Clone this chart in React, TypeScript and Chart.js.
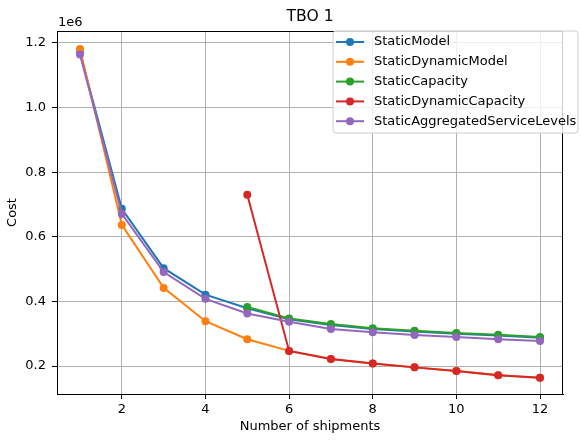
import React, { useEffect, useRef } from "react";
import { Chart, registerables } from "chart.js";

Chart.register(...registerables);

const titleText = "TBO 1";
const xAxisLabel = "Number of shipments";
const yAxisLabel = "Cost";
const yExponentLabel = "1e6";

const allShipments = [1, 2, 3, 4, 5, 6, 7, 8, 9, 10, 11, 12];
const capacityShipments = [5, 6, 7, 8, 9, 10, 11, 12];

const xTickValues = [2, 4, 6, 8, 10, 12];
const yTickValues = [200000, 400000, 600000, 800000, 1000000, 1200000];

const staticModel = [1170000, 687000, 503000, 421000, 379000, 345000, 327000, 315000, 307000, 300000, 295000, 288000];
const staticDynamicModel = [1181000, 637000, 442000, 339000, 283000, 247000, 222000, 208000, 196000, 185000, 172000, 164000];
const staticCapacity = [383000, 347000, 330000, 317000, 309000, 302000, 297000, 290000];
const staticDynamicCapacity = [730000, 247000, 222000, 208000, 196000, 185000, 172000, 164000];
const staticAggregatedServiceLevels = [1164000, 671000, 491000, 408000, 363000, 337000, 315000, 305000, 296000, 290000, 283000, 278000];

const seriesNames = [
  "StaticModel",
  "StaticDynamicModel",
  "StaticCapacity",
  "StaticDynamicCapacity",
  "StaticAggregatedServiceLevels",
];
const seriesColors = ["#1f77b4", "#ff7f0e", "#2ca02c", "#d62728", "#9467bd"];
const seriesX = [allShipments, allShipments, capacityShipments, capacityShipments, allShipments];
const seriesY = [staticModel, staticDynamicModel, staticCapacity, staticDynamicCapacity, staticAggregatedServiceLevels];

const FONT = "'DejaVu Sans', sans-serif";
const FS = 13;

const decorPlugin = {
  id: "decor",
  afterDatasetsDraw(chart: any) {
    const ctx = chart.ctx;
    const a = chart.chartArea;
    ctx.save();
    // frame
    ctx.strokeStyle = "#000";
    ctx.lineWidth = 1;
    ctx.strokeRect(Math.round(a.left) + 0.5, Math.round(a.top) + 0.5, Math.round(a.right - a.left) - 1, Math.round(a.bottom - a.top));

    // title
    ctx.fillStyle = "#000";
    ctx.textAlign = "center";
    ctx.textBaseline = "middle";
    ctx.font = `15.6px ${FONT}`;
    ctx.fillText(titleText, (a.left + a.right) / 2, 17);

    // axis labels
    ctx.font = `${FS}px ${FONT}`;
    ctx.fillText(xAxisLabel, (a.left + a.right) / 2, 427);
    ctx.save();
    ctx.translate(13, (a.top + a.bottom) / 2);
    ctx.rotate(-Math.PI / 2);
    ctx.fillText(yAxisLabel, 0, 0);
    ctx.restore();

    // exponent
    ctx.textAlign = "left";
    ctx.fillText(yExponentLabel, a.left + 1, 22.5);

    // legend
    const lx = 333, ly = 31, lw = 245, lh = 102;
    const r = 3;
    ctx.beginPath();
    ctx.moveTo(lx + r, ly);
    ctx.lineTo(lx + lw - r, ly);
    ctx.arcTo(lx + lw, ly, lx + lw, ly + r, r);
    ctx.lineTo(lx + lw, ly + lh - r);
    ctx.arcTo(lx + lw, ly + lh, lx + lw - r, ly + lh, r);
    ctx.lineTo(lx + r, ly + lh);
    ctx.arcTo(lx, ly + lh, lx, ly + lh - r, r);
    ctx.lineTo(lx, ly + r);
    ctx.arcTo(lx, ly, lx + r, ly, r);
    ctx.closePath();
    ctx.fillStyle = "rgba(255,255,255,0.8)";
    ctx.fill();
    ctx.strokeStyle = "#cccccc";
    ctx.lineWidth = 1;
    ctx.stroke();

    seriesNames.forEach((name, i) => {
      const y = 42 + i * 19.8;
      ctx.strokeStyle = seriesColors[i];
      ctx.lineWidth = 2;
      ctx.beginPath();
      ctx.moveTo(336, y);
      ctx.lineTo(364, y);
      ctx.stroke();
      ctx.fillStyle = seriesColors[i];
      ctx.beginPath();
      ctx.arc(350, y, 4, 0, Math.PI * 2);
      ctx.fill();
      ctx.fillStyle = "#000";
      ctx.textAlign = "left";
      ctx.textBaseline = "middle";
      ctx.font = `${FS}px ${FONT}`;
      ctx.fillText(name, 374, y);
    });
    ctx.restore();
  },
};

export default function App() {
  const ref = useRef<HTMLCanvasElement | null>(null);
  useEffect(() => {
    if (!ref.current) return;
    const datasets = seriesNames.map((name, i) => ({
      label: name,
      data: seriesY[i].map((v, j) => ({ x: seriesX[i][j], y: v })),
      borderColor: seriesColors[i],
      backgroundColor: seriesColors[i],
      pointBackgroundColor: seriesColors[i],
      pointBorderColor: seriesColors[i],
      pointBorderWidth: 0,
      pointRadius: 4,
      borderWidth: 2,
      tension: 0,
      fill: false,
      order: seriesNames.length - i,
    }));
    const chart = new Chart(ref.current, {
      type: "line",
      data: { datasets },
      plugins: [decorPlugin],
      options: {
        animation: false,
        responsive: false,
        devicePixelRatio: 1,
        layout: { padding: { top: 31, right: 18, left: 0, bottom: 0 } },
        plugins: { legend: { display: false }, title: { display: false }, tooltip: { enabled: false } },
        scales: {
          x: {
            type: "linear",
            min: 0.45,
            max: 12.55,
            afterFit: (s: any) => { s.height = 47; },
            afterBuildTicks: (s: any) => { s.ticks = xTickValues.map((value) => ({ value })); },
            grid: { color: "#b0b0b0", lineWidth: 1, tickColor: "#000", tickLength: 5, drawTicks: true },
            border: { display: true, color: "#000" },
            ticks: { color: "#000", font: { family: FONT, size: FS }, padding: 3, maxRotation: 0, autoSkip: false, callback: (v: any) => String(v) },
          },
          y: {
            type: "linear",
            min: 113600,
            max: 1237000,
            afterFit: (s: any) => { s.width = 57; },
            afterBuildTicks: (s: any) => { s.ticks = yTickValues.map((value) => ({ value })); },
            grid: { color: "#b0b0b0", lineWidth: 1, tickColor: "#000", tickLength: 5, drawTicks: true },
            border: { display: true, color: "#000" },
            ticks: { color: "#000", font: { family: FONT, size: FS }, padding: 6, autoSkip: false, callback: (v: any) => (Number(v) / 1e6).toFixed(1) },
          },
        },
      },
    });
    return () => chart.destroy();
  }, []);
  return (
    <div style={{ position: "absolute", left: 0, top: 0, width: 581, height: 441, background: "#fff" }}>
      <canvas ref={ref} width={581} height={441} />
    </div>
  );
}
